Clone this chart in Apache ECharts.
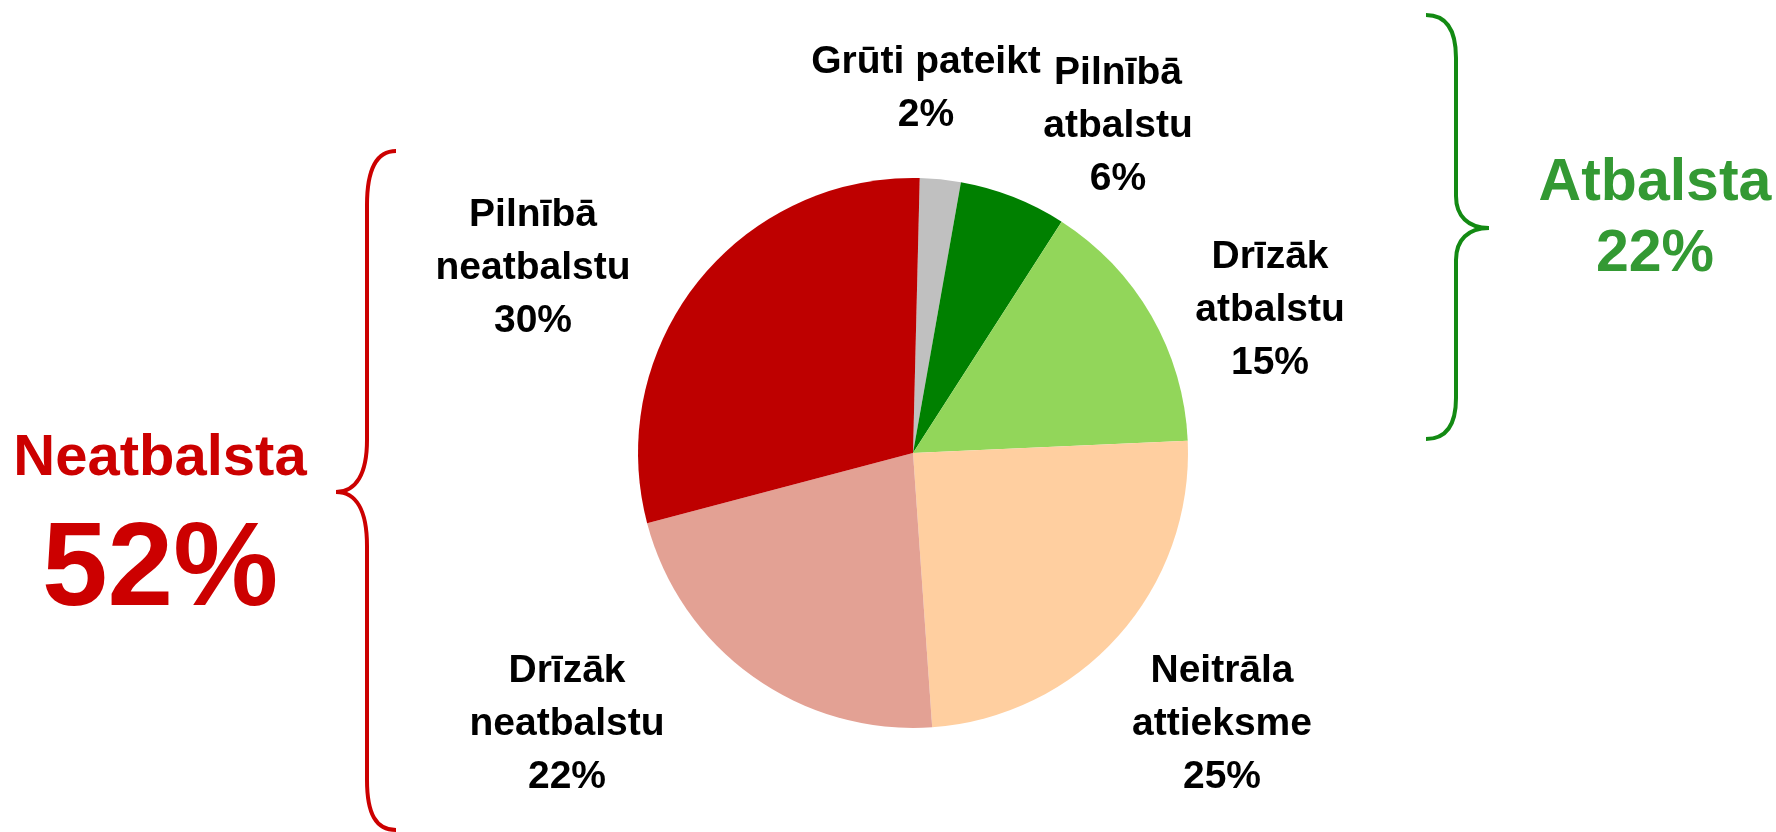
<!DOCTYPE html>
<html>
<head>
<meta charset="utf-8">
<style>
    html, body { margin: 0; padding: 0; background: #ffffff; }
    #echarts-main { width: 1776px; height: 832px; }
</style>
<script src="https://cdn.jsdelivr.net/npm/echarts@6/dist/echarts.min.js"></script>
</head>
<body>
<div id="echarts-main"></div>
<script>
    // dati (secības kārtībā pulksteņrādītāja virzienā no augšas)
    const categories = ['Grūti pateikt', 'Pilnībā\natbalstu', 'Drīzāk\natbalstu', 'Neitrāla\nattieksme', 'Drīzāk\nneatbalstu', 'Pilnībā\nneatbalstu']
    const shares = [2.4, 6.3, 15.2, 24.6, 22.0, 29.5]
    const sliceColors = ['#C0C0C0', '#008000', '#92D65A', '#FFCFA0', '#E3A194', '#BE0000']

    const groupNames = ['Neatbalsta', 'Atbalsta']
    const groupTotals = [52, 22]

    // etiķešu centri (px)
    const labelPos = [[926, 89], [1118, 126], [1270, 310], [1222, 724], [567, 724], [533, 268]]

    const pieData = []
    for (let i = 0; i < categories.length; i++) {
        pieData.push({ name: categories[i], value: shares[i], itemStyle: { color: sliceColors[i] } })
    }

    const font = '"Liberation Sans", Arial, sans-serif'

    // figūriekava no līnijām un Bezjē līknēm
    function brace(segs, color) {
        const out = []
        segs.forEach(s => {
            const style = { fill: 'none', stroke: color, lineWidth: 4 }
            if (s.length === 4) {
                out.push({ type: 'line', shape: { x1: s[0], y1: s[1], x2: s[2], y2: s[3] }, style: style })
            } else {
                out.push({
                    type: 'bezierCurve',
                    shape: { x1: s[0], y1: s[1], cpx1: s[2], cpy1: s[3], cpx2: s[4], cpy2: s[5], x2: s[6], y2: s[7] },
                    style: style
                })
            }
        })
        return out
    }

    const redBrace = brace([
        [396, 151, 376, 151, 367, 170, 367, 205],
        [367, 205, 367, 440],
        [367, 440, 367, 474, 356, 492, 336, 492],
        [336, 492, 356, 492, 367, 510, 367, 546],
        [367, 546, 367, 780],
        [367, 780, 367, 814, 376, 830, 396, 830]
    ], '#CC0000')

    const greenBrace = brace([
        [1426, 15, 1446, 15, 1456, 30, 1456, 58],
        [1456, 58, 1456, 196],
        [1456, 196, 1456, 216, 1468, 228, 1489, 228],
        [1489, 228, 1468, 228, 1456, 240, 1456, 260],
        [1456, 260, 1456, 398],
        [1456, 398, 1456, 425, 1446, 439, 1426, 439]
    ], '#138A13')

    let myChart = echarts.init(document.getElementById('echarts-main'))

    const option = {
        animation: false,
        series: [
            {
                type: 'pie',
                center: [913, 453],
                radius: 275,
                startAngle: 88.6,
                clockwise: true,
                avoidLabelOverlap: false,
                data: pieData,
                itemStyle: { borderWidth: 0 },
                label: {
                    show: true,
                    position: 'outside',
                    formatter: function (p) {
                        return p.name + '\n' + Math.round(p.value) + '%'
                    },
                    color: '#000000',
                    fontFamily: font,
                    fontWeight: 'bold',
                    fontSize: 39,
                    lineHeight: 53,
                    align: 'center'
                },
                labelLine: { show: false },
                labelLayout: function (params) {
                    const pos = labelPos[params.dataIndex]
                    return { x: pos[0], y: pos[1], align: 'center', verticalAlign: 'middle' }
                },
                emphasis: { disabled: true }
            }
        ],
        graphic: redBrace.concat(greenBrace).concat([
            {
                type: 'text',
                x: 160, y: 459,
                style: { text: groupNames[0], fill: '#CC0000', font: 'bold 58px ' + font, textAlign: 'center', textVerticalAlign: 'middle' }
            },
            {
                type: 'text',
                x: 160, y: 572,
                style: { text: groupTotals[0] + '%', fill: '#CC0000', font: 'bold 118px ' + font, textAlign: 'center', textVerticalAlign: 'middle' }
            },
            {
                type: 'text',
                x: 1655, y: 184,
                style: { text: groupNames[1], fill: '#339933', font: 'bold 59px ' + font, textAlign: 'center', textVerticalAlign: 'middle' }
            },
            {
                type: 'text',
                x: 1655, y: 255,
                style: { text: groupTotals[1] + '%', fill: '#339933', font: 'bold 59px ' + font, textAlign: 'center', textVerticalAlign: 'middle' }
            }
        ])
    }

    option && myChart.setOption(option)
</script>
</body>
</html>
